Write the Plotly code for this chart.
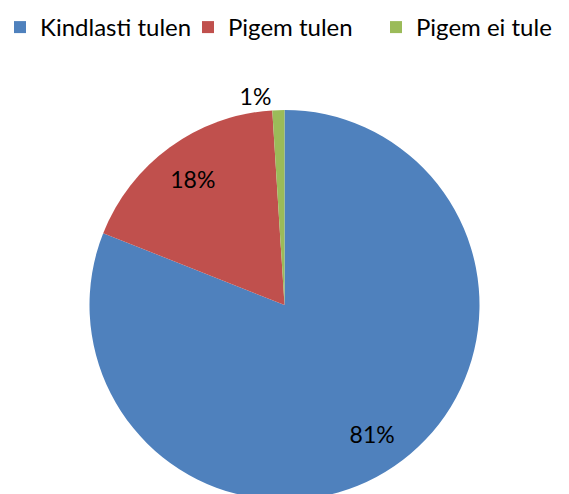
import plotly.graph_objects as go

categories = ["Kindlasti tulen", "Pigem tulen", "Pigem ei tule"]
values = [81, 18, 1]
colors = ["#4F81BD", "#C0504D", "#9BBB59"]
text_positions = ["inside", "inside", "outside"]

FONT = "Lato, sans-serif"

# Coloured pie with legend
fig = go.Figure(go.Pie(
    labels=categories,
    values=values,
    sort=False,
    direction="clockwise",
    rotation=0,
    marker=dict(colors=colors, line=dict(width=0)),
    textinfo="none",
    domain=dict(x=[0, 1], y=[0, 1]),
    showlegend=True,
    hoverinfo="label+percent",
))

# Transparent ring carrying the percentage labels (placed at ~0.8 R)
fig.add_trace(go.Pie(
    labels=categories,
    values=values,
    sort=False,
    direction="clockwise",
    rotation=0,
    hole=0.6,
    marker=dict(colors=["rgba(0,0,0,0)"] * len(values), line=dict(width=0)),
    texttemplate="%{percent:.0%}",
    textposition=text_positions,
    insidetextorientation="horizontal",
    textfont=dict(family=FONT, size=23, color="#000000"),
    domain=dict(x=[0, 1], y=[0, 1]),
    showlegend=False,
    hoverinfo="skip",
))

fig.update_layout(
    width=569, height=500,
    margin=dict(l=0, r=0, t=110, b=0, autoexpand=False),
    paper_bgcolor="white",
    plot_bgcolor="white",
    font=dict(family=FONT, size=24, color="#000000"),
    legend=dict(orientation="h", x=0, xanchor="left",
                yref="container", y=0.99, yanchor="top",
                entrywidth=143, entrywidthmode="pixels",
                font=dict(family=FONT, size=24, color="#000000"),
                traceorder="normal"),
)

fig.write_html(
    "out.html",
    config={"displayModeBar": False},
    post_script="document.body.style.margin='0';"
                "document.body.style.overflow='hidden';"
                "document.documentElement.style.overflow='hidden';",
)
